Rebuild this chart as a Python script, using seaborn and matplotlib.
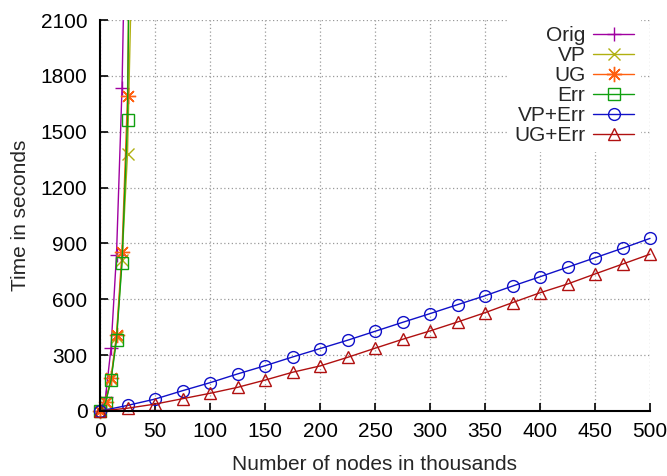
import matplotlib
matplotlib.use("Agg")
import matplotlib.pyplot as plt
import matplotlib.patches as mpatches
import seaborn as sns

# ---- data ----
steep_x = [0, 5, 10, 15, 20, 25, 30]
orig_x = [0, 5, 10, 15, 20, 25]
orig_y = [0, 75, 337, 840, 1733, 3260]
vp_y = [0, 45, 170, 400, 810, 1380, 2700]
ug_y = [0, 50, 176, 408, 856, 1690, 4000]
err_y = [0, 45, 165, 381, 795, 1562, 4500]

lin_x = [0, 25, 50, 75, 100, 125, 150, 175, 200, 225, 250,
         275, 300, 325, 350, 375, 400, 425, 450, 475, 500]
vperr_y = [0, 30, 64, 109, 152, 199, 243, 290, 335, 380, 428,
           476, 523, 571, 619, 671, 721, 772, 823, 874, 927]
ugerr_y = [0, 15, 37, 66, 95, 127, 166, 208, 242, 288, 337,
           385, 430, 478, 528, 582, 635, 682, 736, 789, 842]

labels = ["Orig", "VP", "UG", "Err", "VP+Err", "UG+Err"]
x_ticks = [0, 50, 100, 150, 200, 250, 300, 350, 400, 450, 500]
y_ticks = [0, 300, 600, 900, 1200, 1500, 1800, 2100]

colors = ["#a000a0", "#b0b010", "#ff6010", "#10a010", "#1010c8", "#b01010"]
markers = ["+", "x", (8, 2, 0), "s", "o", "^"]
msizes = [10, 9, 11, 8.5, 8.5, 8.5]

xs_all = [orig_x, steep_x, steep_x, steep_x, lin_x, lin_x]
ys_all = [orig_y, vp_y, ug_y, err_y, vperr_y, ugerr_y]

sns.set_style("white")
plt.rcParams['font.family'] = ['Liberation Sans', 'DejaVu Sans']

fig = plt.figure(figsize=(6.67, 4.76), dpi=100)
ax = fig.add_axes([100 / 667, 1 - 411 / 476, 550 / 667, 391 / 476])

for name, xs, ys, c, m, ms in zip(labels, xs_all, ys_all, colors, markers, msizes):
    sns.lineplot(x=xs, y=ys, ax=ax, color=c, marker=m, markersize=ms,
                 markeredgecolor=c, markerfacecolor="none", markeredgewidth=1.0,
                 linewidth=1.0, label=name, sort=False, estimator=None)

ax.set_xlim(0, 500)
ax.set_ylim(0, 2100)
ax.set_xticks(x_ticks)
ax.set_yticks(y_ticks)

# clip: exact at top, a little slack at left/bottom/right so edge markers show
clip = mpatches.Rectangle((-0.03, -0.04), 1.06, 1.04, transform=ax.transAxes,
                          facecolor="none", edgecolor="none")
ax.add_patch(clip)
for ln in ax.lines:
    ln.set_clip_path(clip)

ax.grid(True, linestyle=(0, (1, 2)), color="#9a9a9a", linewidth=0.9)
ax.set_axisbelow(True)
for s in ["top", "right"]:
    ax.spines[s].set_visible(False)
for s in ["left", "bottom"]:
    ax.spines[s].set_color("black")
    ax.spines[s].set_linewidth(1.5)
    ax.spines[s].set_zorder(3)

ax.tick_params(axis="both", which="both", direction="in", length=6, width=1.2,
               colors="black", labelsize=15, left=True, bottom=True,
               top=False, right=False)
ax.tick_params(axis="y", pad=9)
ax.tick_params(axis="x", pad=8)

ax.set_xlabel("Number of nodes in thousands", fontsize=15, labelpad=10)
ax.set_ylabel("Time in seconds", fontsize=15, labelpad=8)

leg = ax.legend(loc="upper right", bbox_to_anchor=(0.983, 1.0),
                markerfirst=False, frameon=True, fancybox=False, framealpha=1,
                edgecolor="none", facecolor="white", fontsize=15,
                handlelength=2.0, handletextpad=0.35, labelspacing=0.05,
                borderpad=0.3, borderaxespad=0)
leg.set_zorder(5)

fig.savefig("out.png", dpi=100)
